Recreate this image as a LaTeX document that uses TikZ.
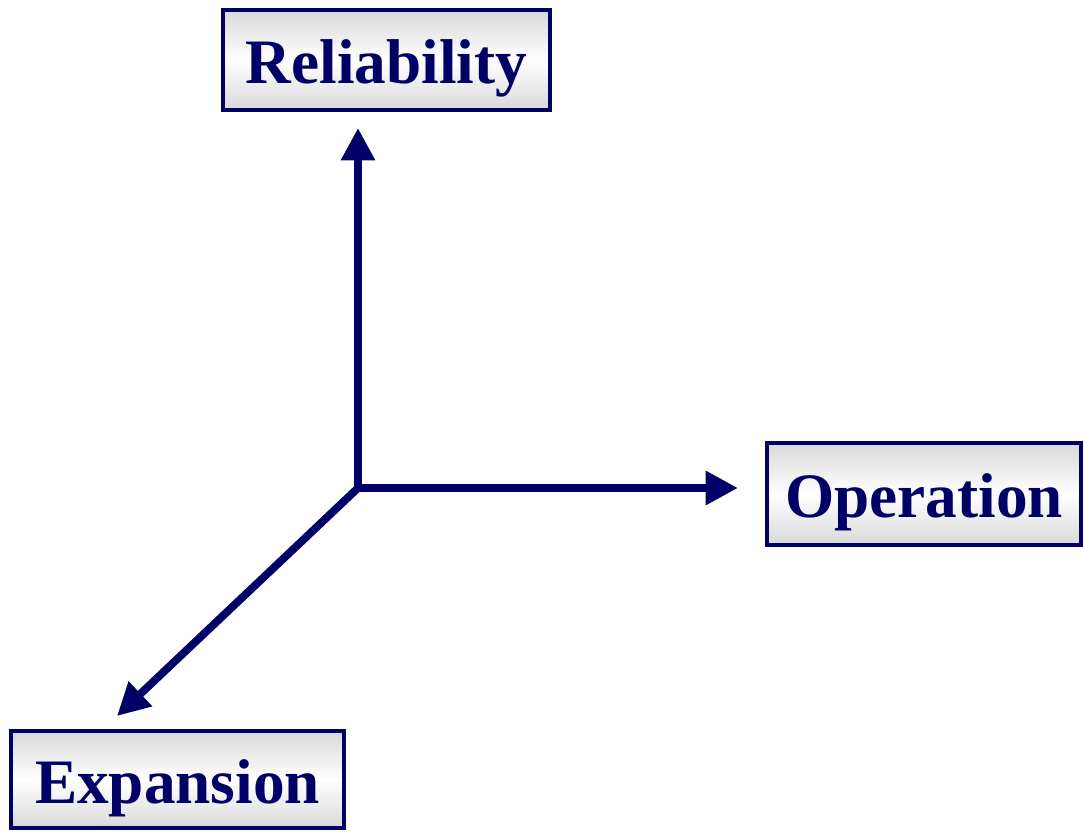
\documentclass[tikz,border=0pt]{standalone}
\usepackage{fontspec}
\setmainfont{Liberation Serif}
\usepackage{tikz}
\usetikzlibrary{arrows.meta,positioning,calc}
\definecolor{navy}{RGB}{0,0,102}

\begin{document}
\begin{tikzpicture}[x=0.025cm,y=-0.025cm,
 axisbox/.style={draw=navy,line width=3.5pt,text=navy,
  top color=gray!30,bottom color=gray!30,middle color=white,
  font=\fontsize{45}{50}\selectfont\bfseries,inner sep=0pt,anchor=center,
  text height=43pt,text depth=9pt},
 axisarrow/.style={draw=navy,line width=5.6pt,-{Triangle[length=23pt,width=23pt]},navy}]
\useasboundingbox (0,0) rectangle (1084,832);
\node[axisbox,minimum width=327*0.025cm,minimum height=100*0.025cm] (rel) at (386.5,60) {Reliability};
\node[axisbox,minimum width=314*0.025cm,minimum height=102*0.025cm] (op) at (924,494) {Operation};
\node[axisbox,minimum width=333*0.025cm,minimum height=97*0.025cm] (exp) at (177.5,779.5) {Expansion};
\coordinate (o) at (358,488);
\coordinate (reltip) at (358,128);
\coordinate (optip) at (738,488);
\coordinate (exptip) at (117,716);
\draw[axisarrow] (o) -- (reltip);
\draw[axisarrow] (o) -- (optip);
\draw[axisarrow] (o) -- (exptip);
\end{tikzpicture}
\end{document}
